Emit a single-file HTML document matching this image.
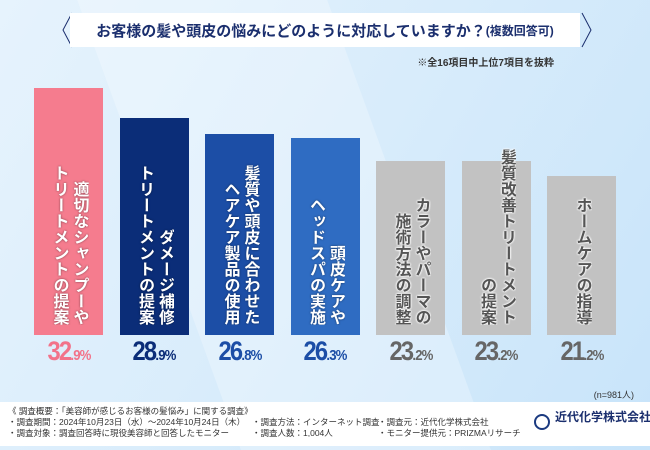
<!DOCTYPE html>
<html><head><meta charset="utf-8">
<style>
*{margin:0;padding:0;box-sizing:border-box}
html,body{width:650px;height:450px;overflow:hidden;font-family:"Liberation Sans","Noto Sans CJK JP",sans-serif;}
#root{position:relative;width:650px;height:450px;background:linear-gradient(120deg,#e6f3fd 0%,#d8ecfb 50%,#c8e4fa 100%);overflow:hidden}
.facet{position:absolute;background:rgba(255,255,255,0.25);}
.title{position:absolute;left:70px;top:13px;width:510px;height:34px;background:#fff;display:flex;align-items:center;justify-content:center;font-weight:bold;font-size:15px;color:#1b2f6e}
.title small{font-size:12px}
.note{position:absolute;right:96px;top:54px;font-size:10px;color:#333;font-weight:bold}
.bar{position:absolute;}
.lab{position:absolute;writing-mode:vertical-rl;text-align:end;font-weight:bold;font-size:16px;line-height:20px;color:#fff;overflow:hidden}
.val{position:absolute;width:90px;text-align:center;font-weight:bold;font-size:27px;letter-spacing:-2px;transform:scaleX(0.88)}
.val span{font-size:15px;letter-spacing:-1px}
.footer{position:absolute;left:0;top:402px;width:650px;height:44px;background:#fff;font-size:8.5px;color:#333;line-height:11px;overflow:hidden}
.footer div{white-space:nowrap}
</style></head><body>
<div id="root">
<div class="facet" style="left:150px;top:-50px;width:250px;height:500px;transform:skewX(20deg)"></div>
<svg style="position:absolute;left:62px;top:10px" width="530" height="40">
<polyline points="10,3 1,20 10,37" fill="none" stroke="#1b2f6e" stroke-width="1"/>
<polyline points="520,3 529,20 520,37" fill="none" stroke="#1b2f6e" stroke-width="1"/>
</svg>
<div class="title">お客様の髪や頭皮の悩みにどのように対応していますか？<small>(複数回答可)</small></div>
<div class="note">※全16項目中上位7項目を抜粋</div>
<div id="bars"></div>
<div style="position:absolute;right:16px;top:388px;font-size:9px;color:#333">(n=981人)</div>
<div class="footer">
<div style="position:absolute;left:8px;top:4px">《 調査概要：「美容師が感じるお客様の髪悩み」に関する調査》</div>
<div style="position:absolute;left:8px;top:15px">・調査期間：2024年10月23日（水）～2024年10月24日（木）</div>
<div style="position:absolute;left:8px;top:26px">・調査対象：調査回答時に現役美容師と回答したモニター</div>
<div style="position:absolute;left:252px;top:15px">・調査方法：インターネット調査</div>
<div style="position:absolute;left:252px;top:26px">・調査人数：1,004人</div>
<div style="position:absolute;left:378px;top:15px">・調査元：近代化学株式会社</div>
<div style="position:absolute;left:378px;top:26px">・モニター提供元：PRIZMAリサーチ</div>
<div style="position:absolute;left:534px;top:12px;width:16px;height:16px;border-radius:50%;border:2px solid #1b3a80"></div>
<div style="position:absolute;left:555px;top:10px;font-size:12px;color:#1b2f6e;font-weight:bold">近代化学株式会社</div>
</div>
</div>
<script>
const categories=[["適切なシャンプーや","トリートメントの提案"],["ダメージ補修","トリートメントの提案"],["髪質や頭皮に合わせた","ヘアケア製品の使用"],["頭皮ケアや","ヘッドスパの実施"],["カラーやパーマの","施術方法の調整"],["髪質改善トリートメント","の提案"],["ホームケアの指導"]];
const values=[32.9,28.9,26.8,26.3,23.2,23.2,21.2];
const barColors=["#f57c8e","#0b2d78","#1c4ea6","#2f6cc2","#c2c2c2","#c2c2c2","#c2c2c2"];
const valColors=["#f2738a","#0b2d78","#1c4ea6","#1c4ea6","#666","#666","#666"];
const base=335, scale=7.5, x0=34, step=85.5, bw=69;
function y(v){return base-v*scale}
function xb(i){return x0+i*step}
const host=document.getElementById('bars');
values.forEach((v,i)=>{
 const b=document.createElement('div');b.className='bar';
 
 
 b.style.cssText=`left:${xb(i)}px;top:${y(v)}px;width:${bw}px;height:${v*scale}px;background:${barColors[i]}`;
 host.appendChild(b);
 const l=document.createElement('div');l.className='lab';
 
 
 const gray=i>=4;
 const n=categories[i].length;
 l.style.cssText=`left:${xb(i)+bw/2-n*10}px;top:${base-230}px;height:220px;width:${n*20}px;`+(gray?'color:#555;text-shadow:0 0 2px #fff,0 0 2px #fff,0 0 2px #fff':'text-shadow:0 0 2px rgba(0,0,0,.5)');
 l.innerHTML=categories[i].join('<br>');
 host.appendChild(l);
 const t=document.createElement('div');t.className='val';
 
 
 t.style.cssText=`left:${xb(i)+bw/2-45}px;top:${base+1}px;color:${valColors[i]}`;
 const s=v.toFixed(1).split('.');
 t.innerHTML=s[0]+'<span>.'+s[1]+'%</span>';
 host.appendChild(t);
});
</script>
</body></html>
